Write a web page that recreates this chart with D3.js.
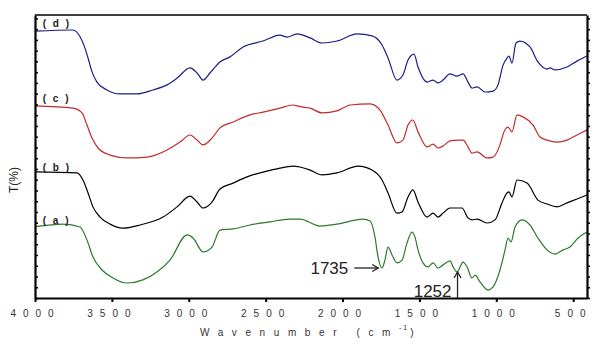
<!DOCTYPE html>
<html>
<head>
<meta charset="utf-8">
<script src="https://cdn.jsdelivr.net/npm/d3@7"></script>
<style>
  html, body { margin: 0; padding: 0; background: #fff; }
  svg { display: block; }
  text { font-family: "Liberation Sans", Arial, sans-serif; }
</style>
</head>
<body>
<div id="chart"></div>
<script>
// ---- data (wavenumber cm-1, transmittance %, stacked offset traces) ----
const xTickValues = [4000, 3500, 3000, 2500, 2000, 1500, 1000, 500];
const seriesLabels = ["( a )", "( b )", "( c )", "( d )"];
const seriesColors = ["#2b7a2b", "#000000", "#c42a2a", "#1c1c8a"];

const spectrumD = [[4000,94.3],[3753,94.7],[3707,92.3],[3675,88.3],[3655,84.8],[3629,79.9],[3597,76.3],[3532,73.5],[3447,72.1],[3337,72.1],[3233,73.5],[3141,75.3],[3076,77.7],[2992,81.3],[2946,79.5],[2907,77.0],[2862,79.5],[2797,83.4],[2732,85.2],[2647,88.7],[2517,90.8],[2407,92.9],[2361,92.2],[2296,93.3],[2211,91.9],[2133,90.1],[2036,90.8],[1906,93.3],[1808,92.6],[1743,89.4],[1704,84.8],[1646,77.0],[1607,78.8],[1574,84.1],[1535,86.2],[1509,81.6],[1450,76.3],[1411,77.0],[1379,76.0],[1346,77.0],[1301,79.2],[1255,78.4],[1216,79.2],[1184,76.3],[1158,74.2],[1125,74.6],[1073,72.8],[1021,73.1],[989,75.3],[956,82.3],[930,84.8],[917,85.5],[898,83.0],[872,90.1],[846,90.8],[781,88.7],[729,83.4],[670,80.9],[651,81.3],[618,80.6],[540,81.6],[475,83.7],[410,85.5]];

const spectrumC = [[4000,67.9],[3753,67.1],[3694,65.4],[3662,61.1],[3629,56.5],[3590,53.0],[3512,50.5],[3402,49.5],[3272,49.8],[3141,52.3],[3057,55.1],[2992,57.6],[2946,55.8],[2907,54.1],[2849,56.5],[2797,60.1],[2712,62.2],[2602,64.7],[2517,65.7],[2407,67.1],[2322,68.2],[2277,67.6],[2211,67.1],[2133,65.4],[2036,66.1],[1951,68.2],[1821,68.6],[1756,66.4],[1704,61.1],[1646,54.8],[1607,55.8],[1574,61.1],[1542,62.9],[1509,58.7],[1450,53.4],[1411,54.4],[1379,53.0],[1346,53.7],[1301,55.5],[1249,55.8],[1216,55.8],[1184,53.4],[1158,51.2],[1125,51.6],[1060,49.5],[1021,49.8],[976,54.1],[950,58.7],[924,60.4],[898,58.7],[865,64.7],[826,64.0],[761,61.1],[716,56.9],[670,55.8],[605,55.1],[540,55.8],[475,57.6],[410,59.4]];

const spectrumB = [[4000,44.6],[3727,44.2],[3688,41.7],[3655,37.1],[3623,32.2],[3577,28.6],[3512,26.1],[3428,24.7],[3317,25.8],[3167,28.6],[3076,32.2],[2992,36.0],[2946,33.9],[2907,31.8],[2849,33.9],[2797,38.5],[2712,40.6],[2621,42.8],[2517,44.5],[2426,45.6],[2322,46.6],[2277,46.3],[2211,45.2],[2133,43.5],[2036,44.2],[1899,46.6],[1808,45.2],[1743,41.7],[1704,37.1],[1646,30.0],[1613,30.4],[1574,35.7],[1542,38.2],[1509,33.9],[1450,28.6],[1411,30.0],[1379,28.6],[1346,30.0],[1301,31.8],[1223,31.8],[1184,28.3],[1158,27.6],[1125,27.9],[1060,26.5],[1008,27.6],[963,33.6],[930,37.1],[917,37.5],[898,35.7],[865,41.7],[800,40.6],[729,34.6],[670,33.2],[605,32.2],[540,33.6],[475,35.0],[410,36.4]];

const spectrumA = [[4000,25.2],[3818,26.1],[3707,25.1],[3662,20.5],[3623,14.5],[3564,9.9],[3493,7.1],[3402,5.3],[3298,6.4],[3207,9.2],[3122,13.4],[3011,22.3],[2972,21.2],[2907,16.3],[2849,18.0],[2797,24.0],[2712,24.4],[2602,25.8],[2472,26.9],[2342,27.9],[2277,27.9],[2146,25.4],[2036,26.1],[1867,27.9],[1821,27.2],[1789,21.6],[1769,14.5],[1743,10.6],[1724,13.4],[1704,18.0],[1678,15.2],[1646,12.4],[1613,13.4],[1581,19.4],[1548,23.3],[1529,21.6],[1509,17.0],[1477,12.4],[1444,11.0],[1411,12.4],[1379,10.6],[1346,11.7],[1301,13.1],[1281,11.0],[1255,9.2],[1216,12.7],[1190,11.0],[1158,7.1],[1138,8.1],[1106,5.7],[1054,2.8],[1021,3.9],[976,9.9],[943,17.0],[924,21.2],[904,19.8],[878,25.1],[833,27.6],[781,25.8],[729,21.2],[670,17.0],[618,15.5],[566,17.0],[521,18.0],[468,21.2],[410,23.3]];

const spectra = [spectrumA, spectrumB, spectrumC, spectrumD];
// label anchor positions (wavenumber, T) for curve labels
const labelPos = [[3950, 26.0], [3950, 45.0], [3950, 69.2], [3950, 95.7]];
// peak annotations
const annot1735 = { wn: 1735, t: 10.6, text: "1735" };
const annot1252 = { wn: 1252, t: 9.2, text: "1252" };

// ---- chart ----
const W = 605, H = 353;
const m = { left: 35, right: 18, top: 15, bottom: 55 };
const svg = d3.select("#chart").append("svg").attr("width", W).attr("height", H);
svg.append("rect").attr("width", W).attr("height", H).attr("fill", "#fff");

const x = d3.scaleLinear().domain([4000, 410]).range([m.left, W - m.right]);
const y = d3.scaleLinear().domain([0, 100]).range([H - m.bottom, m.top]);

// traces
const line = d3.line().x(d => x(d[0])).y(d => y(d[1])).curve(d3.curveMonotoneX);
spectra.forEach((s, i) => {
  svg.append("path").datum(s)
    .attr("d", line)
    .attr("fill", "none")
    .attr("stroke", seriesColors[i])
    .attr("stroke-width", 1.2)
    .attr("stroke-linejoin", "round");
});

// curve labels
seriesLabels.forEach((t, i) => {
  svg.append("text")
    .attr("x", x(labelPos[i][0]))
    .attr("y", y(labelPos[i][1]))
    .attr("font-size", 10)
    .attr("font-weight", "bold")
    .attr("letter-spacing", 2)
    .attr("fill", "#222")
    .text(t);
});

// frame
const x0 = x.range()[0], x1 = x.range()[1], y0 = y.range()[0], y1 = y.range()[1];
svg.append("line").attr("x1", x0).attr("x2", x1).attr("y1", y1).attr("y2", y1)
  .attr("stroke", "#000").attr("stroke-width", 1.5);

// bottom axis
const xAxis = d3.axisBottom(x).tickValues(xTickValues).tickSize(4).tickSizeOuter(0)
  .tickPadding(8).tickFormat(d3.format("d"));
const gx = svg.append("g").attr("transform", `translate(0,${y0})`).call(xAxis);
gx.select(".domain").attr("stroke-width", 2);
gx.selectAll(".tick line").attr("stroke-width", 2);
gx.selectAll(".tick text")
  .attr("font-size", 10)
  .attr("fill", "#333")
  .attr("letter-spacing", 7)
  .attr("font-family", "'Liberation Sans', Arial, sans-serif");

// left axis with minor ticks inside
const yMinor = d3.range(0, 100.1, 3.8);
const gy = svg.append("g").attr("transform", `translate(${x0},0)`)
  .call(d3.axisRight(y).tickValues(yMinor).tickSize(3).tickSizeOuter(0).tickFormat(""));
gy.select(".domain").attr("stroke-width", 2.2);
gy.selectAll(".tick line").attr("stroke-width", 1.5);

// right axis
const gr = svg.append("g").attr("transform", `translate(${x1},0)`)
  .call(d3.axisRight(y).tickValues(yMinor).tickSize(3).tickSizeOuter(0).tickFormat(""));
gr.select(".domain").attr("stroke-width", 2.2);
gr.selectAll(".tick line").attr("stroke-width", 1.5);

// axis titles
const xt = svg.append("text")
  .attr("x", 200).attr("y", 336)
  .attr("font-size", 10).attr("fill", "#333")
  .attr("letter-spacing", 8.6);
xt.append("tspan").text("Wavenumber (cm");
xt.append("tspan").attr("dy", -6).attr("font-size", 7).attr("letter-spacing", 2).text("-1");
xt.append("tspan").attr("dy", 6).attr("dx", 1).text(")");

svg.append("text")
  .attr("transform", `translate(18,180) rotate(-90)`)
  .attr("text-anchor", "middle")
  .attr("font-size", 12).attr("fill", "#222")
  .text("T(%)");

// annotations
const ax = x(annot1735.wn) - 5, ay = y(annot1735.t);
svg.append("text").attr("x", ax - 30).attr("y", ay + 6)
  .attr("text-anchor", "end").attr("font-size", 17).attr("fill", "#222")
  .text(annot1735.text);
svg.append("line").attr("x1", ax - 24).attr("x2", ax).attr("y1", ay).attr("y2", ay)
  .attr("stroke", "#222").attr("stroke-width", 1.3);
svg.append("path").attr("d", `M${ax - 6},${ay - 3.5} L${ax},${ay} L${ax - 6},${ay + 3.5}`)
  .attr("fill", "none").attr("stroke", "#222").attr("stroke-width", 1.3);

const bx = x(annot1252.wn), by = y(annot1252.t);
svg.append("line").attr("x1", bx).attr("x2", bx).attr("y1", y0).attr("y2", by)
  .attr("stroke", "#222").attr("stroke-width", 1.3);
svg.append("path").attr("d", `M${bx - 3.5},${by + 6} L${bx},${by} L${bx + 3.5},${by + 6}`)
  .attr("fill", "none").attr("stroke", "#222").attr("stroke-width", 1.3);
svg.append("text").attr("x", bx - 6).attr("y", y0 - 1)
  .attr("text-anchor", "end").attr("font-size", 17).attr("fill", "#222")
  .text(annot1252.text);
</script>
</body>
</html>
